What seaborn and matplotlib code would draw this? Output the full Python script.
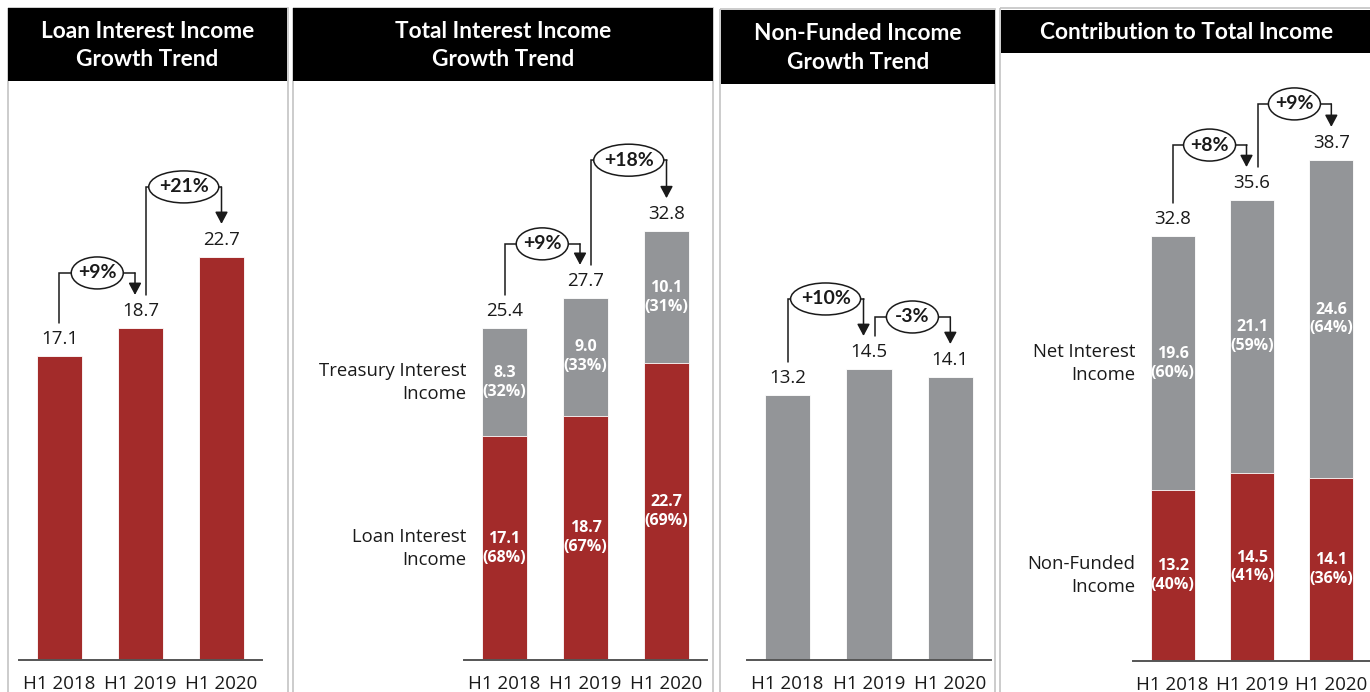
import matplotlib
matplotlib.use("Agg")
import matplotlib.pyplot as plt
from matplotlib.patches import Ellipse, Rectangle
import pandas as pd
import seaborn as sns

# ---- data (KES bn) ----
periods = ["H1 2018", "H1 2019", "H1 2020"]

loan_interest = [17.1, 18.7, 22.7]
loan_growth = ["+9%", "+21%"]

treasury_interest = [8.3, 9.0, 10.1]
loan_share = ["68%", "67%", "69%"]
treasury_share = ["32%", "33%", "31%"]
total_interest_growth = ["+9%", "+18%"]

non_funded = [13.2, 14.5, 14.1]
non_funded_growth = ["+10%", "-3%"]

net_interest = [19.6, 21.1, 24.6]
non_funded_share = ["40%", "41%", "36%"]
net_interest_share = ["60%", "59%", "64%"]
total_income_growth = ["+8%", "+9%"]

titles = ["Loan Interest Income\nGrowth Trend",
          "Total Interest Income\nGrowth Trend",
          "Non-Funded Income\nGrowth Trend",
          "Contribution to Total Income"]

# ---- style ----
RED = "#A32B2A"
GRAY = "#939598"
INK = "#1A1A1A"
FRAME = "#C4C4C4"
BODY = ["Open Sans", "DejaVu Sans"]
HEAD = ["Lato", "DejaVu Sans"]

sns.set_theme(style="white")
plt.rcParams["font.family"] = BODY

W, H = 1370, 692
fig = plt.figure(figsize=(W / 100, H / 100), dpi=100)

# background layer: panel frames and black header bands (pixel coordinates)
bg = fig.add_axes([0, 0, 1, 1], zorder=0)
bg.set_xlim(0, W)
bg.set_ylim(H, 0)
bg.axis("off")

frames = [(8, 8, 288), (293, 8, 713), (720, 9, 995), (1000, 8, 1380)]
headers = [(8, 8, 287, 81), (293, 8, 713, 81), (721, 10, 995, 84), (1001, 10, 1372, 53)]
for (x0, y0, x1) in frames:
    bg.add_patch(Rectangle((x0, y0), x1 - x0, H + 20 - y0, facecolor="none",
                           edgecolor=FRAME, lw=1.2))
for (x0, y0, x1, y1), title in zip(headers, titles):
    bg.add_patch(Rectangle((x0, y0), x1 - x0, y1 - y0, facecolor="black",
                           edgecolor="none"))
    bg.text((x0 + x1) / 2, (y0 + y1) / 2 + 1, title, ha="center", va="center",
            color="white", fontsize=16.3, fontweight="bold", family=HEAD,
            linespacing=1.45)


def panel_axes(left, right, base, top, ymax):
    ax = fig.add_axes([left / W, 1 - base / H, (right - left) / W, (base - top) / H],
                      zorder=2)
    ax.patch.set_alpha(0)
    return ax, ymax


def finish(ax, ymax):
    ax.set_xlim(-0.5, 2.5)
    ax.set_ylim(0, ymax)
    ax.set_xlabel("")
    ax.set_ylabel("")
    ax.set_yticks([])
    for side in ("left", "right", "top"):
        ax.spines[side].set_visible(False)
    ax.spines["bottom"].set_color("#555555")
    ax.spines["bottom"].set_linewidth(1.4)
    ax.set_xticks([0, 1, 2])
    ax.set_xticklabels(periods, fontsize=13.5, color=INK)
    ax.tick_params(axis="x", length=0, pad=11)


def px_x(ax, px):
    return px * 3.0 / ax.bbox.width


def px_y(ax, px):
    return px * ax.get_ylim()[1] / ax.bbox.height


def bars(ax, values, color):
    df = pd.DataFrame({"period": periods, "value": values})
    sns.barplot(data=df, x="period", y="value", order=periods, color=color,
                saturation=1, width=0.555, errorbar=None, ax=ax,
                edgecolor="white", linewidth=0.6)


def value_labels(ax, values):
    for i, v in enumerate(values):
        ax.annotate(f"{v:.1f}", (i, v), xytext=(0, 17), textcoords="offset pixels",
                    ha="center", va="center", fontsize=13.5, color=INK)


def inner_labels(ax, bottoms, values, shares):
    for i, (b, v, s) in enumerate(zip(bottoms, values, shares)):
        ax.text(i, b + v / 2, f"{v:.1f}\n({s})", ha="center", va="center",
                color="white", fontsize=11.5, fontweight="bold", linespacing=1.22,
                zorder=5)


def growth(ax, i, h0, h1, label, rise, first):
    gap = px_y(ax, 33)
    y0, y1 = h0 + gap, h1 + gap
    lvl = max(y0, y1) + px_y(ax, rise)
    x0 = i + (0 if first else px_x(ax, 5.5))
    x1 = i + 1 - (px_x(ax, 5.5) if first else 0)
    ax.plot([x0, x0, x1], [y0, lvl, lvl], color=INK, lw=1.1, clip_on=False,
            solid_joinstyle="miter", zorder=3)
    ax.annotate("", xy=(x1, y1), xytext=(x1, lvl),
                arrowprops=dict(arrowstyle="-|>,head_length=0.6,head_width=0.32",
                                color=INK, lw=1.1, shrinkA=0, shrinkB=0,
                                mutation_scale=12),
                annotation_clip=False, zorder=3)
    ew = 52 if len(label) <= 3 else 70
    xm = (x0 + x1) / 2
    ax.add_patch(Ellipse((xm, lvl), px_x(ax, ew), px_y(ax, 32), facecolor="white",
                         edgecolor=INK, lw=1.1, zorder=4, clip_on=False))
    ax.text(xm, lvl, label, ha="center", va="center", fontsize=14,
            fontweight="bold", family=HEAD, color=INK, zorder=5)


def side_label(ax, y, text):
    ax.text(-0.5 + px_x(ax, 2), y, text, ha="right", va="center", multialignment="right",
            fontsize=13.3, color=INK, linespacing=1.36)


# ---- panel 1: loan interest income ----
ax1, ym1 = panel_axes(19, 262, 660, 90, 32.1)
bars(ax1, loan_interest, RED)
finish(ax1, ym1)
value_labels(ax1, loan_interest)
for k, (g, rise) in enumerate(zip(loan_growth, [22, 37])):
    growth(ax1, k, loan_interest[k], loan_interest[k + 1], g, rise, k == 0)

# ---- panel 2: total interest income (stacked) ----
total_interest = [round(a + b, 1) for a, b in zip(loan_interest, treasury_interest)]
ax2, ym2 = panel_axes(464, 707, 660, 90, 43.6)
bars(ax2, total_interest, GRAY)
bars(ax2, loan_interest, RED)
finish(ax2, ym2)
value_labels(ax2, total_interest)
inner_labels(ax2, [0, 0, 0], loan_interest, loan_share)
inner_labels(ax2, loan_interest, treasury_interest, treasury_share)
for k, (g, rise) in enumerate(zip(total_interest_growth, [21, 38])):
    growth(ax2, k, total_interest[k], total_interest[k + 1], g, rise, k == 0)
side_label(ax2, loan_interest[0] + treasury_interest[0] / 2, "Treasury Interest\nIncome")
side_label(ax2, loan_interest[0] / 2, "Loan Interest\nIncome")

# ---- panel 3: non-funded income ----
ax3, ym3 = panel_axes(747, 991, 660, 90, 28.4)
bars(ax3, non_funded, GRAY)
finish(ax3, ym3)
value_labels(ax3, non_funded)
for k, (g, rise) in enumerate(zip(non_funded_growth, [37, 19])):
    growth(ax3, k, non_funded[k], non_funded[k + 1], g, rise, k == 0)

# ---- panel 4: contribution to total income (stacked) ----
total_income = [round(a + b, 1) for a, b in zip(non_funded, net_interest)]
ax4, ym4 = panel_axes(1133, 1371, 661, 90, 44.1)
bars(ax4, total_income, GRAY)
bars(ax4, non_funded, RED)
finish(ax4, ym4)
value_labels(ax4, total_income)
inner_labels(ax4, [0, 0, 0], non_funded, non_funded_share)
inner_labels(ax4, non_funded, net_interest, net_interest_share)
for k, (g, rise) in enumerate(zip(total_income_growth, [22, 23])):
    growth(ax4, k, total_income[k], total_income[k + 1], g, rise, k == 0)
side_label(ax4, non_funded[0] + net_interest[0] / 2, "Net Interest\nIncome")
side_label(ax4, non_funded[0] / 2, "Non-Funded\nIncome")

fig.savefig("out.png", dpi=100)
